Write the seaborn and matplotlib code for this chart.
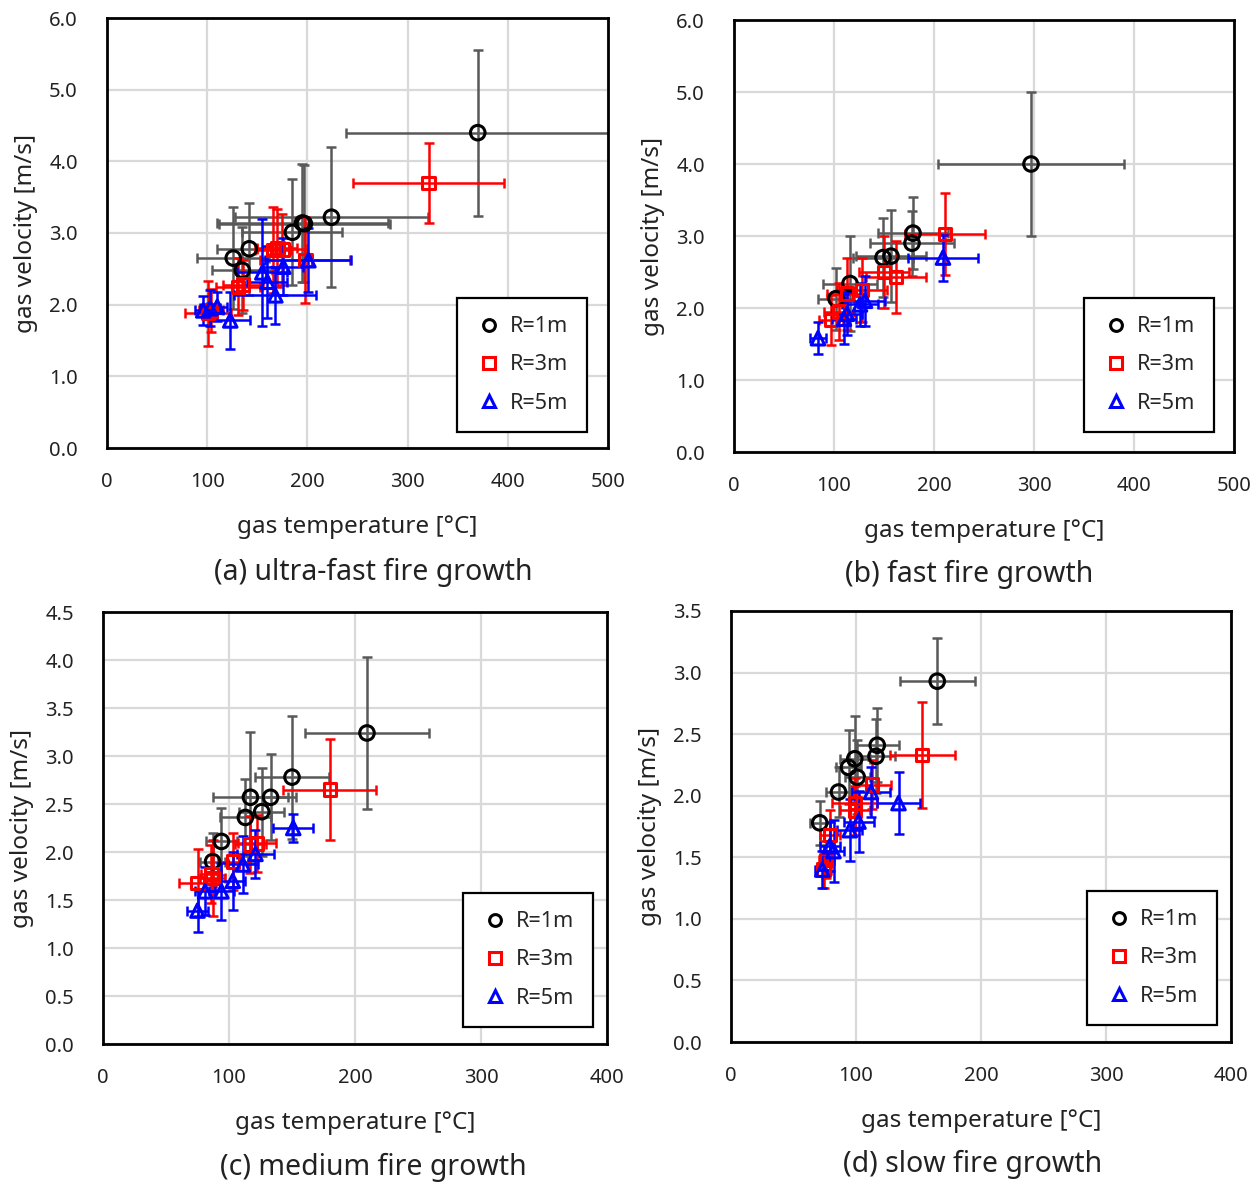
import numpy as np
import pandas as pd
import matplotlib
matplotlib.use("Agg")
import matplotlib.pyplot as plt
import seaborn as sns
from matplotlib.lines import Line2D

# ---------------- data ----------------
# (a) ultra-fast
a_r1_T = [370, 224, 197, 195, 185, 142, 126, 135]
a_r1_V = [4.40, 3.22, 3.13, 3.14, 3.01, 2.78, 2.65, 2.48]
a_r1_Te = [131, 96, 85, 85, 50, 32, 36, 30]
a_r1_Ve = [1.16, 0.98, 0.82, 0.82, 0.74, 0.64, 0.71, 0.60]
a_r3_T = [321, 170, 166, 175, 198, 131, 136, 101, 104]
a_r3_V = [3.70, 2.79, 2.76, 2.77, 2.62, 2.25, 2.28, 1.88, 1.92]
a_r3_Te = [75, 20, 18, 25, 45, 22, 20, 23, 12]
a_r3_Ve = [0.56, 0.55, 0.60, 0.50, 0.60, 0.40, 0.35, 0.45, 0.30]
a_r5_T = [201, 176, 155, 160, 168, 123, 96, 103, 110]
a_r5_V = [2.62, 2.53, 2.45, 2.32, 2.13, 1.78, 1.92, 1.95, 1.97]
a_r5_Te = [43, 20, 25, 20, 41, 20, 8, 10, 10]
a_r5_Ve = [0.45, 0.40, 0.75, 0.50, 0.40, 0.40, 0.20, 0.25, 0.20]

# (b) fast
b_r1_T = [297, 179, 178, 157, 149, 116, 102]
b_r1_V = [4.00, 3.04, 2.90, 2.72, 2.70, 2.34, 2.13]
b_r1_Te = [93, 35, 42, 35, 30, 27, 18]
b_r1_Ve = [1.00, 0.50, 0.45, 0.64, 0.55, 0.66, 0.43]
b_r3_T = [211, 162, 150, 128, 113, 105, 97]
b_r3_V = [3.03, 2.43, 2.50, 2.25, 2.20, 1.95, 1.83]
b_r3_Te = [40, 30, 25, 25, 20, 15, 12]
b_r3_Ve = [0.57, 0.50, 0.50, 0.45, 0.50, 0.40, 0.35]
b_r5_T = [209, 131, 126, 113, 110, 84]
b_r5_V = [2.70, 2.10, 2.05, 1.92, 1.85, 1.58]
b_r5_Te = [35, 20, 18, 15, 12, 8]
b_r5_Ve = [0.32, 0.35, 0.30, 0.30, 0.35, 0.22]

# (c) medium
c_r1_T = [209.5, 150, 117, 133, 126, 113, 94, 87]
c_r1_V = [3.24, 2.78, 2.57, 2.57, 2.42, 2.36, 2.11, 1.90]
c_r1_Te = [49, 29, 30, 20, 18, 20, 12, 10]
c_r1_Ve = [0.79, 0.64, 0.68, 0.45, 0.46, 0.40, 0.35, 0.30]
c_r3_T = [180, 122, 117, 103, 87, 75, 86]
c_r3_V = [2.65, 2.09, 2.08, 1.90, 1.73, 1.68, 1.77]
c_r3_Te = [37, 15, 12, 12, 10, 15, 8]
c_r3_Ve = [0.53, 0.30, 0.30, 0.30, 0.40, 0.35, 0.30]
c_r5_T = [151, 121, 111, 103, 94, 81, 75]
c_r5_V = [2.25, 1.98, 1.87, 1.70, 1.59, 1.59, 1.39]
c_r5_Te = [16, 15, 12, 10, 10, 8, 8]
c_r5_Ve = [0.15, 0.25, 0.30, 0.30, 0.30, 0.25, 0.22]

# (d) slow
d_r1_T = [165, 117, 116, 99, 94, 101, 86, 71]
d_r1_V = [2.93, 2.41, 2.32, 2.30, 2.23, 2.15, 2.03, 1.78]
d_r1_Te = [30, 17, 15, 12, 10, 10, 10, 8]
d_r1_Ve = [0.35, 0.30, 0.30, 0.35, 0.30, 0.30, 0.20, 0.18]
d_r3_T = [153, 113, 99, 99, 79, 74, 76]
d_r3_V = [2.33, 2.09, 1.94, 1.88, 1.68, 1.40, 1.48]
d_r3_Te = [26, 15, 18, 12, 8, 6, 6]
d_r3_Ve = [0.43, 0.20, 0.20, 0.20, 0.20, 0.15, 0.15]
d_r5_T = [134, 112, 102, 95, 79, 82, 73]
d_r5_V = [1.94, 2.03, 1.79, 1.72, 1.59, 1.55, 1.40]
d_r5_Te = [17, 15, 12, 10, 8, 8, 6]
d_r5_Ve = [0.25, 0.20, 0.25, 0.25, 0.20, 0.25, 0.15]

series_labels = ["R=1m", "R=3m", "R=5m"]
captions = ["(a) ultra-fast fire growth", "(b) fast fire growth",
            "(c) medium fire growth", "(d) slow fire growth"]
x_label = "gas temperature [\u00b0C]"
y_label = "gas velocity [m/s]"

# ---------------- style ----------------
sns.set_theme(style="white")
plt.rcParams['font.family'] = ['Noto Sans', 'DejaVu Sans']

W, H = 1260, 1184
fig = plt.figure(figsize=(W / 100, H / 100), dpi=100)

marker_col = {"R=1m": "black", "R=3m": "#ff0000", "R=5m": "#0000ff"}
err_col = {"R=1m": "#595959", "R=3m": "#ff0000", "R=5m": "#0000ff"}
marker_shape = {"R=1m": "o", "R=3m": "s", "R=5m": "^"}
marker_size = {"R=1m": 110, "R=3m": 80, "R=5m": 95}


def build(T1, V1, Te1, Ve1, T3, V3, Te3, Ve3, T5, V5, Te5, Ve5):
    frames = []
    for lab, T, V, Te, Ve in zip(series_labels, [T1, T3, T5], [V1, V3, V5],
                                 [Te1, Te3, Te5], [Ve1, Ve3, Ve5]):
        frames.append(pd.DataFrame({"T": T, "V": V, "Te": Te, "Ve": Ve, "R": lab}))
    return pd.concat(frames, ignore_index=True)


panels = [
    dict(df=build(a_r1_T, a_r1_V, a_r1_Te, a_r1_Ve, a_r3_T, a_r3_V, a_r3_Te, a_r3_Ve,
                  a_r5_T, a_r5_V, a_r5_Te, a_r5_Ve),
         box=(107, 18, 608, 448), xmax=500, xstep=100, ymax=6.0, ystep=1.0,
         leg=(587, 432), cap=(373, 572)),
    dict(df=build(b_r1_T, b_r1_V, b_r1_Te, b_r1_Ve, b_r3_T, b_r3_V, b_r3_Te, b_r3_Ve,
                  b_r5_T, b_r5_V, b_r5_Te, b_r5_Ve),
         box=(734, 20, 1234, 452), xmax=500, xstep=100, ymax=6.0, ystep=1.0,
         leg=(1214, 432), cap=(969, 574)),
    dict(df=build(c_r1_T, c_r1_V, c_r1_Te, c_r1_Ve, c_r3_T, c_r3_V, c_r3_Te, c_r3_Ve,
                  c_r5_T, c_r5_V, c_r5_Te, c_r5_Ve),
         box=(103, 612, 607, 1044), xmax=400, xstep=100, ymax=4.5, ystep=0.5,
         leg=(593, 1027), cap=(373, 1167)),
    dict(df=build(d_r1_T, d_r1_V, d_r1_Te, d_r1_Ve, d_r3_T, d_r3_V, d_r3_Te, d_r3_Ve,
                  d_r5_T, d_r5_V, d_r5_Te, d_r5_Ve),
         box=(731, 611, 1231, 1042), xmax=400, xstep=100, ymax=3.5, ystep=0.5,
         leg=(1217, 1025), cap=(973, 1164)),
]

for p, cap in zip(panels, captions):
    x0, y0, x1, y1 = p["box"]
    ax = fig.add_axes([x0 / W, 1 - y1 / H, (x1 - x0) / W, (y1 - y0) / H])
    df = p["df"]
    for lab in series_labels:
        sub = df[df["R"] == lab]
        ax.errorbar(sub["T"], sub["V"], xerr=sub["Te"], yerr=sub["Ve"], fmt="none",
                    ecolor=err_col[lab], elinewidth=1.8, capsize=3.5, capthick=1.8,
                    zorder=2)
        sns.scatterplot(data=sub, x="T", y="V", marker=marker_shape[lab],
                        s=marker_size[lab], color=marker_col[lab],
                        facecolor="none", edgecolor=marker_col[lab],
                        linewidth=2.2, ax=ax, zorder=3, legend=False)
    ax.set_xlim(0, p["xmax"])
    ax.set_ylim(0, p["ymax"])
    ax.set_xticks(np.arange(0, p["xmax"] + 1, p["xstep"]))
    yt = np.arange(0, p["ymax"] + 1e-9, p["ystep"])
    ax.set_yticks(yt)
    ax.set_yticklabels([f"{v:.1f}" for v in yt])
    ax.grid(True, color="#d9d9d9", linewidth=1.6)
    ax.set_axisbelow(True)
    for s in ax.spines.values():
        s.set_color("black")
        s.set_linewidth(2.0)
        s.set_zorder(5)
    ax.tick_params(axis="both", length=0, labelsize=14.5, colors="#222222")
    ax.tick_params(axis="x", pad=17)
    ax.tick_params(axis="y", pad=21)
    ax.set_xlabel(x_label, fontsize=17.5, labelpad=17, color="#222222")
    ax.set_ylabel(y_label, fontsize=17.5, labelpad=8, color="#222222")
    handles = [Line2D([], [], linestyle="none", marker=marker_shape[l],
                      markersize=8.5 if l == "R=1m" else 8,
                      markerfacecolor="none", markeredgecolor=marker_col[l],
                      markeredgewidth=2.2, label=l) for l in series_labels]
    leg = ax.legend(handles=handles, loc="lower right",
                    bbox_to_anchor=(p["leg"][0] / W, 1 - p["leg"][1] / H),
                    bbox_transform=fig.transFigure, borderaxespad=0,
                    frameon=True, fancybox=False, edgecolor="black",
                    framealpha=1, fontsize=15.5, labelspacing=0.8,
                    handlelength=1.3, handletextpad=0.35, borderpad=0.85)
    leg.get_frame().set_linewidth(1.6)
    leg.set_zorder(10)
    fig.text(p["cap"][0] / W, 1 - p["cap"][1] / H, cap, ha="center", va="center",
             fontsize=20.5, color="#222222")

fig.savefig("out.png", dpi=100)
